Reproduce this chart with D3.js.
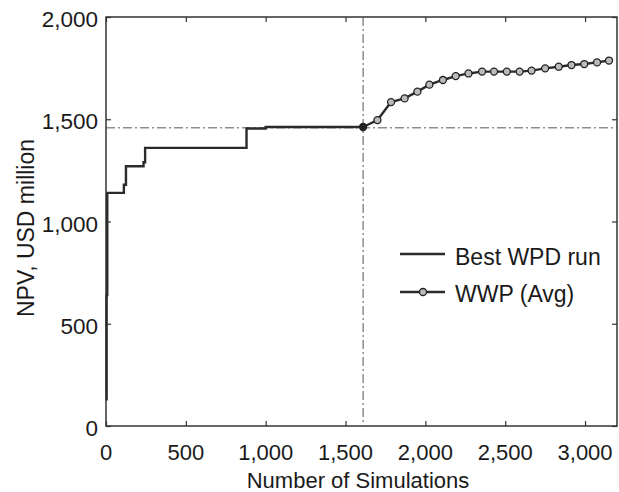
<!DOCTYPE html>
<html>
<head>
<meta charset="utf-8">
<script src="https://cdn.jsdelivr.net/npm/d3@7"></script>
<style>
  body { margin: 0; background: #fff; }
  text { font-family: "Liberation Sans", Arial, sans-serif; fill: #1a1a1a; }
</style>
</head>
<body>
<div id="chart"></div>
<script>
// best WPD run, step line (simulation number, NPV)
const bestSims = [0, 4, 8, 105, 112, 125, 225, 235, 245, 870, 880, 990, 1000, 1610];
const bestNpv  = [130, 640, 1140, 1140, 1180, 1270, 1270, 1290, 1360, 1360, 1455, 1455, 1462, 1462];

// WWP (Avg) markers
const wwpSims = [1610, 1700, 1785, 1870, 1950, 2025, 2110, 2190, 2270, 2355, 2430, 2510, 2590, 2665, 2750, 2835, 2915, 2995, 3075, 3150];
const wwpNpv  = [1462, 1496, 1584, 1602, 1635, 1669, 1692, 1711, 1724, 1733, 1733, 1733, 1733, 1738, 1749, 1757, 1765, 1770, 1778, 1787];

const refX = 1610;   // vertical dash-dot line
const refY = 1458;   // horizontal dash-dot line

const xTicks = [0, 500, 1000, 1500, 2000, 2500, 3000];
const yTicks = [0, 500, 1000, 1500, 2000];

const width = 619, height = 492;
const margin = {left: 106, right: 2, top: 17, bottom: 66};

const svg = d3.select('#chart').append('svg')
    .attr('width', width)
    .attr('height', height);

const x = d3.scaleLinear().domain([0, 3200]).range([margin.left, width - margin.right]);
const y = d3.scaleLinear().domain([0, 2000]).range([height - margin.bottom, margin.top]);

const fmt = d3.format(',');

// axes: ticks inward on all four sides
svg.append('g')
    .attr('transform', `translate(0, ${y(0)})`)
    .call(d3.axisTop(x).tickValues(xTicks).tickSize(5).tickFormat(''));
svg.append('g')
    .attr('transform', `translate(0, ${y(2000)})`)
    .call(d3.axisBottom(x).tickValues(xTicks).tickSize(5).tickFormat(''));
svg.append('g')
    .attr('transform', `translate(${x(0)}, 0)`)
    .call(d3.axisRight(y).tickValues(yTicks).tickSize(5).tickFormat(''));
svg.append('g')
    .attr('transform', `translate(${x(3200)}, 0)`)
    .call(d3.axisLeft(y).tickValues(yTicks).tickSize(5).tickFormat(''));
svg.selectAll('.domain').remove();
svg.selectAll('.tick line').attr('stroke', '#333').attr('stroke-width', 1.2);

svg.append('rect')
    .attr('x', x(0)).attr('y', y(2000))
    .attr('width', x(3200) - x(0)).attr('height', y(0) - y(2000))
    .attr('fill', 'none').attr('stroke', '#333').attr('stroke-width', 1.5);

// tick labels
svg.selectAll('.xlab').data(xTicks).enter().append('text')
    .attr('x', d => x(d)).attr('y', y(0) + 34)
    .attr('text-anchor', 'middle')
    .attr('font-size', 22)
    .text(d => fmt(d));
svg.selectAll('.ylab').data(yTicks).enter().append('text')
    .attr('x', x(0) - 8).attr('y', d => y(d) + 10)
    .attr('text-anchor', 'end')
    .attr('font-size', 22.5)
    .text(d => fmt(d));

svg.append('text')
    .attr('x', 358).attr('y', 488)
    .attr('text-anchor', 'middle').attr('font-size', 22)
    .text('Number of Simulations');
svg.append('text')
    .attr('transform', `translate(34, 228) rotate(-90)`)
    .attr('text-anchor', 'middle').attr('font-size', 23)
    .text('NPV, USD million');

// reference dash-dot lines
svg.append('line')
    .attr('x1', x(refX)).attr('x2', x(refX))
    .attr('y1', y(2000)).attr('y2', y(0))
    .attr('stroke', '#555').attr('stroke-width', 1)
    .attr('stroke-dasharray', '9,3,2,3');
svg.append('line')
    .attr('x1', x(0)).attr('x2', x(3200))
    .attr('y1', y(refY)).attr('y2', y(refY))
    .attr('stroke', '#555').attr('stroke-width', 1)
    .attr('stroke-dasharray', '9,3,2,3');

// best WPD run
const bestData = bestSims.map((s, i) => ({s: s, v: bestNpv[i]}));
svg.append('path')
    .datum(bestData)
    .attr('fill', 'none')
    .attr('stroke', '#2b2b2b')
    .attr('stroke-width', 2.4)
    .attr('d', d3.line().x(d => x(d.s)).y(d => y(d.v)).curve(d3.curveStepAfter));

// WWP avg
const wwpData = wwpSims.map((s, i) => ({s: s, v: wwpNpv[i]}));
svg.append('path')
    .datum(wwpData)
    .attr('fill', 'none')
    .attr('stroke', '#2b2b2b')
    .attr('stroke-width', 2.4)
    .attr('d', d3.line().x(d => x(d.s)).y(d => y(d.v)));
svg.selectAll('.wwp').data(wwpData).enter().append('circle')
    .attr('cx', d => x(d.s)).attr('cy', d => y(d.v))
    .attr('r', 3.5)
    .attr('fill', (d, i) => i === 0 ? '#222' : '#bbb')
    .attr('stroke', '#222').attr('stroke-width', 1.3);

// legend
const lg = svg.append('g');
lg.append('line').attr('x1', 400).attr('x2', 445).attr('y1', 254).attr('y2', 254)
    .attr('stroke', '#2b2b2b').attr('stroke-width', 2.4);
lg.append('text').attr('x', 455).attr('y', 265).attr('font-size', 23).text('Best WPD run');
lg.append('line').attr('x1', 400).attr('x2', 445).attr('y1', 292).attr('y2', 292)
    .attr('stroke', '#2b2b2b').attr('stroke-width', 2.4);
lg.append('circle').attr('cx', 423).attr('cy', 292).attr('r', 3.5)
    .attr('fill', '#bbb').attr('stroke', '#222').attr('stroke-width', 1.3);
lg.append('text').attr('x', 455).attr('y', 302).attr('font-size', 23).text('WWP (Avg)');
</script>
</body>
</html>
